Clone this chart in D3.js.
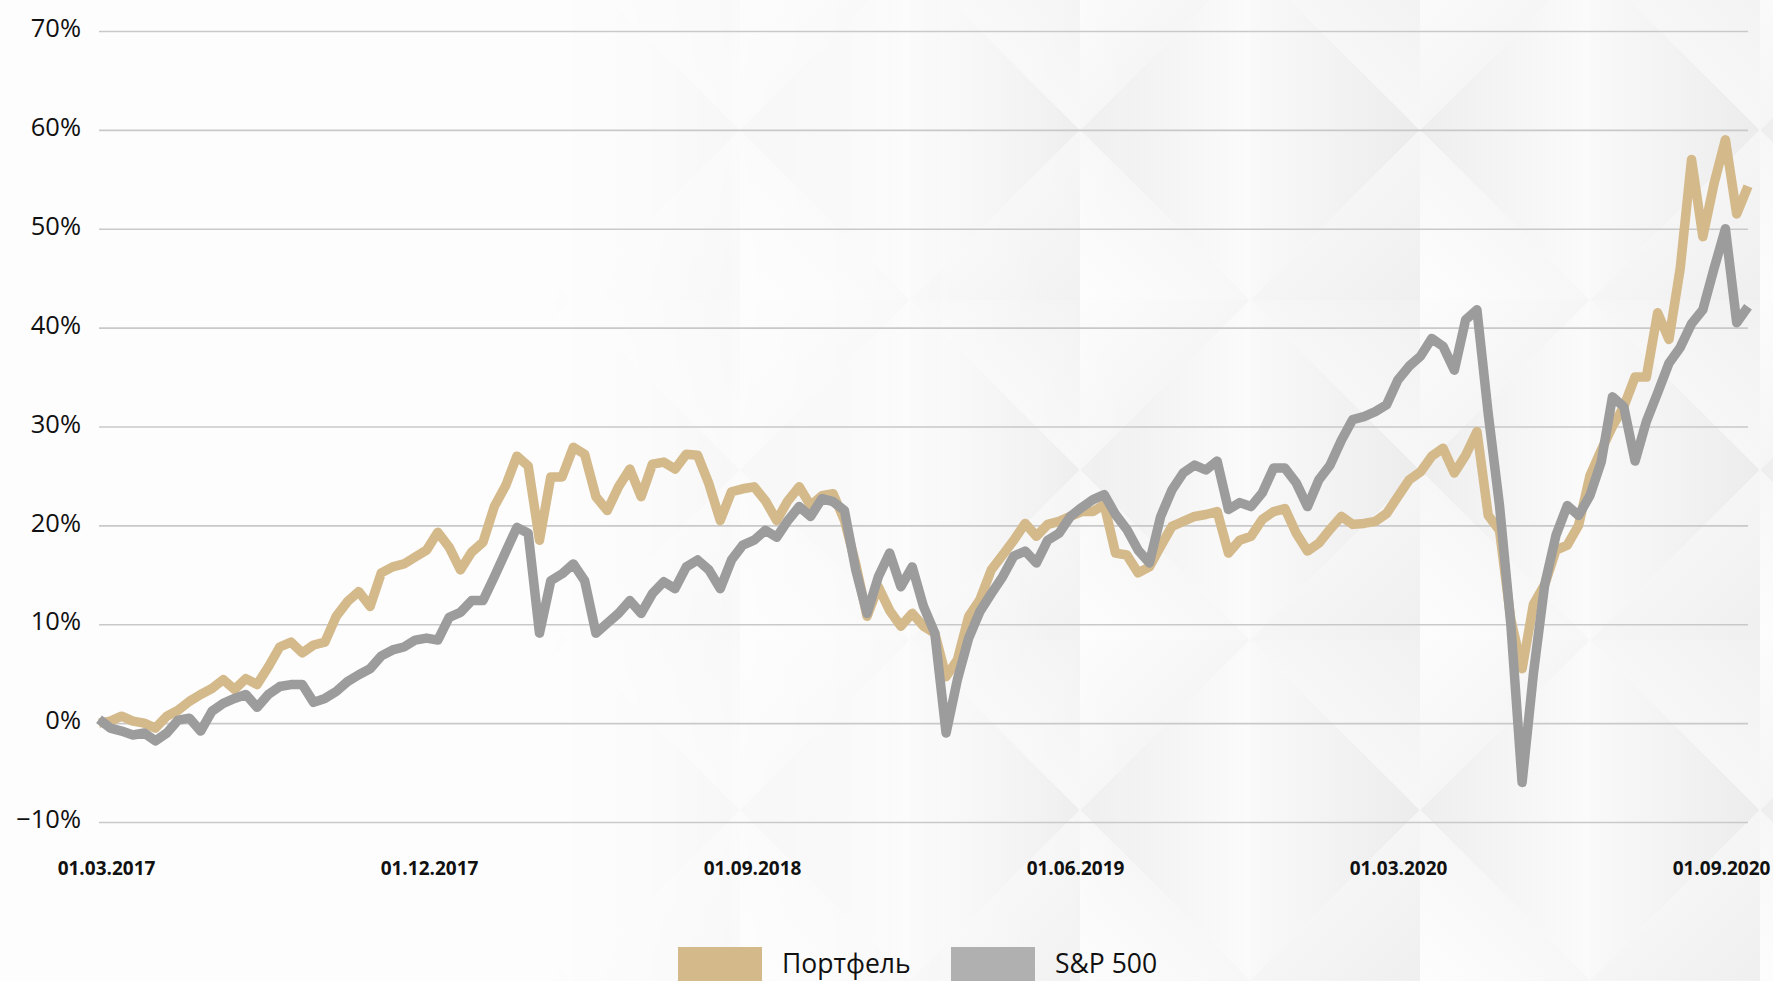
<!DOCTYPE html>
<html>
<head>
<meta charset="utf-8">
<script src="https://cdn.jsdelivr.net/npm/d3@7"></script>
<style>
  html, body { margin: 0; padding: 0; background: #fdfdfd; }
  svg { display: block; }
  text { font-family: "Open Sans", sans-serif; fill: #111; }
</style>
</head>
<body>
<svg id="chart" width="1773" height="981"></svg>
<script>
// x labels (equally spaced, like the original)
const tickLabels = ["01.03.2017", "01.12.2017", "01.09.2018", "01.06.2019", "01.03.2020", "01.09.2020"];
const yTicks = [-10, 0, 10, 20, 30, 40, 50, 60, 70];
const seriesNames = ["Портфель", "S&P 500"];

// cumulative return, % at equal steps
const portfolio = [
  0.0, 0.2, 0.7, 0.2, 0.0, -0.5, 0.7, 1.3, 2.2, 2.9,
  3.5, 4.4, 3.4, 4.5, 3.9, 5.7, 7.7, 8.2, 7.1, 7.9,
  8.2, 10.8, 12.3, 13.3, 11.8, 15.2, 15.8, 16.1, 16.8, 17.5,
  19.3, 17.8, 15.5, 17.3, 18.3, 21.9, 24.0, 27.0, 26.0, 18.5,
  24.9, 24.9, 27.9, 27.2, 22.9, 21.5, 23.9, 25.7, 22.9, 26.2,
  26.4, 25.7, 27.2, 27.1, 24.2, 20.5, 23.4, 23.7, 23.9, 22.5,
  20.5, 22.5, 23.9, 22.0, 23.0, 23.2, 20.5, 16.1, 10.8, 13.8,
  11.4, 9.8, 11.1, 9.8, 9.1, 4.7, 6.4, 10.8, 12.5, 15.5,
  17.0, 18.5, 20.2, 18.9, 20.1, 20.4, 20.9, 21.4, 21.4, 22.1,
  17.2, 17.0, 15.2, 15.8, 17.9, 19.9, 20.4, 20.9, 21.1, 21.4,
  17.2, 18.5, 18.9, 20.6, 21.4, 21.7, 19.2, 17.4, 18.2, 19.6,
  20.9, 20.1, 20.2, 20.4, 21.2, 22.9, 24.6, 25.4, 27.0, 27.8,
  25.3, 27.1, 29.5, 21.0, 19.5, 10.5, 5.5, 12.0, 14.0, 17.5,
  18.0, 20.0, 25.0, 27.6, 30.0, 32.0, 35.0, 35.0, 41.5, 38.8,
  46.0, 57.0, 49.2, 54.6, 59.0, 51.5, 54.3
];
const sp500 = [
  0.4, -0.5, -0.8, -1.2, -1.0, -1.8, -1.0, 0.3, 0.5, -0.8,
  1.2, 2.0, 2.5, 2.9, 1.6, 2.9, 3.7, 3.9, 3.9, 2.1,
  2.5, 3.2, 4.2, 4.9, 5.5, 6.8, 7.4, 7.7, 8.4, 8.6,
  8.4, 10.7, 11.2, 12.4, 12.4, 14.8, 17.3, 19.8, 19.2, 9.1,
  14.4, 15.1, 16.1, 14.4, 9.1, 10.1, 11.1, 12.4, 11.1, 13.1,
  14.3, 13.6, 15.8, 16.5, 15.5, 13.6, 16.5, 18.0, 18.5, 19.5,
  18.8, 20.5, 21.9, 20.9, 22.7, 22.4, 21.5, 15.5, 11.1, 14.8,
  17.2, 13.8, 15.8, 11.8, 9.1, -1.0, 4.4, 8.6, 11.3, 13.1,
  14.8, 16.9, 17.4, 16.2, 18.5, 19.2, 20.9, 21.8, 22.6, 23.1,
  21.1, 19.6, 17.5, 16.2, 20.9, 23.6, 25.3, 26.1, 25.6, 26.5,
  21.6, 22.3, 21.9, 23.3, 25.8, 25.8, 24.3, 21.9, 24.6, 26.1,
  28.6, 30.7, 31.0, 31.5, 32.2, 34.7, 36.1, 37.1, 38.9, 38.1,
  35.7, 40.8, 41.8, 31.3, 22.0, 10.0, -6.0, 5.0, 14.0, 19.0,
  22.0, 21.0, 23.0, 26.4, 33.0, 32.0, 26.5, 30.5, 33.4, 36.4,
  38.0, 40.4, 41.8, 46.0, 50.0, 40.5, 42.1
];

const lineColors = ["#d4b98b", "#9c9c9c"];
const legendColors = ["#d4b98b", "#b0b0b0"];

const svg = d3.select("#chart");
const plotLeft = 99, plotRight = 1748, plotTop = 31, plotBottom = 822;

// --- background: faint diamond facets, fading in from the left
const defs = svg.append("defs");
function grad(id, x1, y1, x2, y2, c1, c2) {
  const g = defs.append("linearGradient").attr("id", id)
    .attr("x1", x1).attr("y1", y1).attr("x2", x2).attr("y2", y2);
  g.append("stop").attr("offset", "0%").attr("stop-color", c1);
  g.append("stop").attr("offset", "100%").attr("stop-color", c2);
}
grad("gA", 0, 0, 1, 0, "#eeeeee", "#fbfbfb");
grad("gB", 0, 0, 1, 0, "#f9f9f9", "#ececec");
grad("gC", 0, 0, 1, 1, "#fcfcfc", "#efefef");
grad("gD", 1, 0, 0, 1, "#f1f1f1", "#fdfdfd");

const W = 340;
const pat = defs.append("pattern").attr("id", "facets")
  .attr("patternUnits", "userSpaceOnUse")
  .attr("width", W).attr("height", W)
  .attr("x", 60).attr("y", -40);
const h = W / 2;
const tris = [
  { p: [[0, h], [h, 0], [h, W]], f: "url(#gA)" },
  { p: [[h, 0], [W, h], [h, W]], f: "url(#gB)" },
  { p: [[0, 0], [h, 0], [0, h]], f: "url(#gC)" },
  { p: [[h, 0], [W, 0], [W, h]], f: "url(#gD)" },
  { p: [[0, h], [h, W], [0, W]], f: "url(#gD)" },
  { p: [[W, h], [W, W], [h, W]], f: "url(#gC)" }
];
pat.selectAll("path").data(tris).join("path")
  .attr("d", d => "M" + d.p.join("L") + "Z")
  .attr("fill", d => d.f);

const mg = defs.append("linearGradient").attr("id", "fade")
  .attr("gradientUnits", "userSpaceOnUse")
  .attr("x1", 520).attr("y1", 0).attr("x2", 1150).attr("y2", 0);
mg.append("stop").attr("offset", "0%").attr("stop-color", "#000");
mg.append("stop").attr("offset", "100%").attr("stop-color", "#fff");
defs.append("mask").attr("id", "fadeMask")
  .append("rect").attr("width", 1773).attr("height", 981).attr("fill", "url(#fade)");

svg.append("rect").attr("width", 1773).attr("height", 981).attr("fill", "#fdfdfd");
svg.append("rect").attr("width", 1773).attr("height", 981)
  .attr("fill", "url(#facets)").attr("mask", "url(#fadeMask)");

// --- scales
const x = d3.scaleLinear().domain([0, portfolio.length - 1]).range([plotLeft, plotRight]);
const y = d3.scaleLinear().domain([-10, 70]).range([plotBottom, plotTop]);
const xLab = d3.scalePoint().domain(tickLabels).range([106, 1721]);

// y axis + gridlines
const yAxis = svg.append("g")
  .attr("transform", "translate(" + plotLeft + ",0)")
  .call(d3.axisLeft(y)
    .tickValues(yTicks)
    .tickSize(-(plotRight - plotLeft))
    .tickPadding(18)
    .tickFormat(d => (d < 0 ? "\u2212" : "") + Math.abs(d) + "%"));
yAxis.select(".domain").remove();
yAxis.selectAll(".tick line").attr("stroke", "#c9c9c9").attr("stroke-width", 1.6);
yAxis.selectAll(".tick text")
  .attr("font-size", "25.5px")
  .attr("dy", "0.22em")
  .style("font-family", "'Open Sans', sans-serif")
  .attr("fill", "#000");

// x axis labels
const xAxis = svg.append("g")
  .attr("transform", "translate(0,861)")
  .call(d3.axisBottom(xLab).tickSize(0).tickPadding(0));
xAxis.select(".domain").remove();
xAxis.selectAll(".tick text")
  .attr("font-size", "19px")
  .attr("font-weight", "bold")
  .attr("dy", "0.71em")
  .style("font-family", "'Open Sans', sans-serif")
  .attr("fill", "#111");

// --- lines
const line = d3.line()
  .x((d, i) => x(i))
  .y(d => y(d));

[portfolio, sp500].forEach((s, k) => {
  svg.append("path")
    .datum(s)
    .attr("fill", "none")
    .attr("stroke", lineColors[k])
    .attr("stroke-width", 9.5)
    .attr("stroke-linejoin", "round")
    .attr("d", line);
});

// --- legend
const legendX = [678, 951];
const lg = svg.append("g");
seriesNames.forEach((name, k) => {
  lg.append("rect")
    .attr("x", legendX[k]).attr("y", 947)
    .attr("width", 84).attr("height", 40)
    .attr("fill", legendColors[k]);
  lg.append("text")
    .attr("x", legendX[k] + 104).attr("y", 973)
    .attr("font-size", "26.5px")
    .attr("fill", "#000")
    .text(name);
});
</script>
</body>
</html>
